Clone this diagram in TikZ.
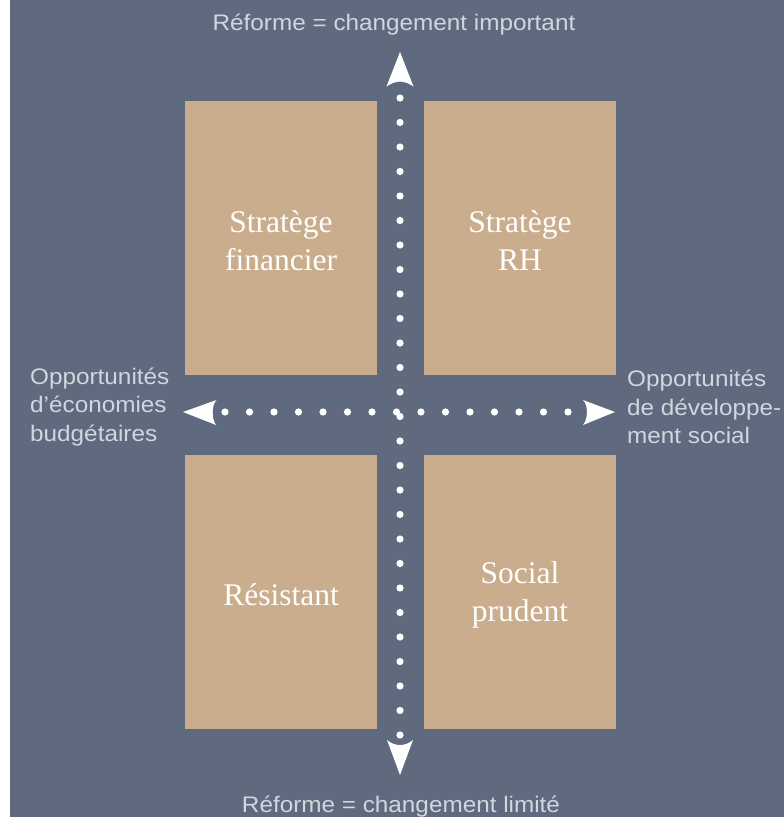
\documentclass[tikz,border=0pt]{standalone}
\usepackage{fontspec}
\setmainfont{Liberation Serif}
\newfontfamily\labfont[FakeStretch=1.08]{Liberation Sans}
\definecolor{bgcol}{HTML}{5F6A7E}
\definecolor{boxcol}{HTML}{C9AD8D}
\definecolor{labcol}{HTML}{D2D6DE}
\begin{document}
\begin{tikzpicture}[x=1pt,y=-1pt,
  quad/.style={fill=boxcol, minimum width=192pt, minimum height=274pt, inner sep=0pt},
  quadtext/.style={inner sep=0pt, align=center, text=white, font=\fontsize{31.5}{38}\selectfont},
  lab/.style={text=labcol, inner sep=0pt, font=\labfont\fontsize{22.5}{28.5}\selectfont},
  dotc/.style={fill=white},
  tip/.style={fill=white}]
\useasboundingbox (0,0) rectangle (784,817);
\fill[bgcol] (10,0) rectangle (784,817);

% quadrant boxes
\node[quad] (tl) at (281,238) {};
\node[quad] (tr) at (520,238) {};
\node[quad] (bl) at (281,591.5) {};
\node[quad] (br) at (520,591.5) {};
\node[quadtext] (tlt) at ([yshift=-2.5pt]tl.center) {Stratège\\financier};
\node[quadtext] (trt) at ([yshift=-2.5pt]tr.center) {Stratège\\RH};
\node[quadtext] (blt) at ([yshift=-3pt]bl.center) {Résistant};
\node[quadtext] (brt) at ([yshift=-3pt]br.center) {Social\\prudent};

% axis labels
\node[lab] (ltop) at (394,25) {Réforme = changement important};
\node[lab] (lbot) at (401,807) {Réforme = changement limité};
\node[lab, anchor=west, align=left] (lleft) at (30,407) {Opportunités\\d’économies\\budgétaires};
\node[lab, anchor=west, align=left] (lright) at (627,407) {Opportunités\\de développe-\\ment social};

% axis end points
\coordinate (vtop) at (400,52);
\coordinate (vbot) at (400,775);
\coordinate (hleft) at (183,412);
\coordinate (hright) at (615,412);

% dotted axes
\foreach \k in {0,...,26} \fill[dotc] (400,98+24.5*\k) circle (3.6pt);
\foreach \k in {0,...,14} \fill[dotc] (225+24.5*\k,412) circle (3.6pt);

% arrow heads
\fill[tip] (vtop) -- (413.5,86.5) .. controls (404,80) and (396,80) .. (386.5,86.5) -- cycle;
\fill[tip] (vbot) -- (413,740) .. controls (405,746.7) and (395,746.7) .. (387,740) -- cycle;
\fill[tip] (hleft) -- (216.5,400) .. controls (211.5,405) and (211.5,419) .. (216,425) -- cycle;
\fill[tip] (hright) -- (583,400) .. controls (588.3,405) and (588.3,419) .. (583,425) -- cycle;
\end{tikzpicture}
\end{document}
